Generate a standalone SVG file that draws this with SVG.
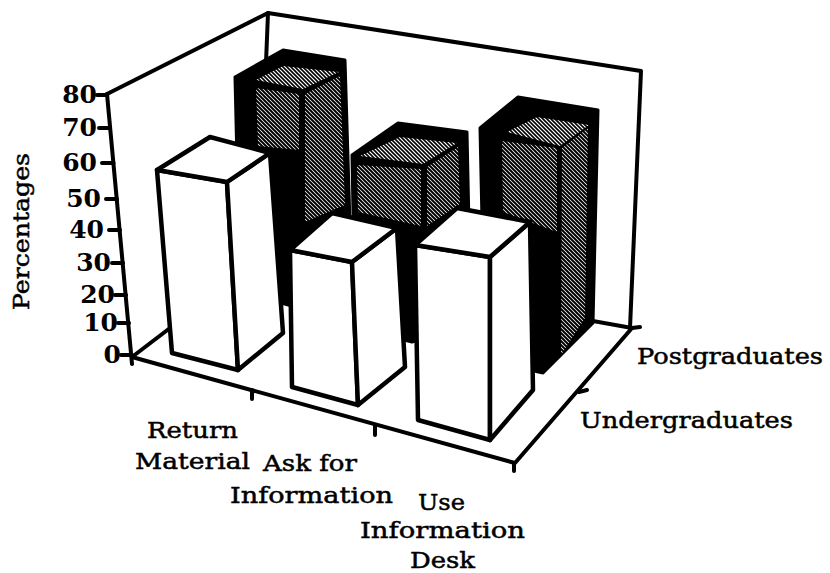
<svg xmlns="http://www.w3.org/2000/svg" width="830" height="573" viewBox="0 0 830 573">
  <defs>
    <!-- halftone screen used on the dark (postgraduate) bars -->
    <pattern id="screen" width="4" height="4" patternUnits="userSpaceOnUse">
      <rect width="4" height="4" fill="#fff"/>
      <path d="M-1,-1 L5,5 M-1,3 L1,5 M3,-1 L5,1" stroke="#000" stroke-width="2"/>
    </pattern>
    <pattern id="screenLight" width="4" height="4" patternUnits="userSpaceOnUse">
      <rect width="4" height="4" fill="#fff"/>
      <path d="M-1,-1 L5,5 M-1,3 L1,5 M3,-1 L5,1" stroke="#000" stroke-width="1.6"/>
    </pattern>
  </defs>
  <style>
    .ln { fill: none; stroke: #000; stroke-width: 4; stroke-linecap: round; stroke-linejoin: round; }
    .wb { fill: #fff; stroke: #000; stroke-width: 4.5; stroke-linejoin: round; }
    .db { fill: #000; stroke: #000; stroke-width: 3; stroke-linejoin: round; }
    .ht { fill: url(#screen); }
    .htl { fill: url(#screenLight); }
    .num { font-family: "DejaVu Serif", "Liberation Serif", serif; font-weight: bold; font-size: 25px; text-anchor: end; fill: #000; }
    .lbl { font-family: "DejaVu Serif", "Liberation Serif", serif; font-size: 23px; fill: #000; stroke: #000; stroke-width: 0.5; }
  </style>
  <rect width="830" height="573" fill="#fff"/>

  <!-- walls, floor and axes -->
  <g id="frame" class="ln">
    <path d="M107,94 L268,13 L641,71 L630,328"/>
    <path d="M268,13 L258,261"/>
    <path d="M132,357 L258,261 L632,328"/>
    <path d="M107,94 L132,364"/>
    <path d="M132,357 L515,463 L632,328 L640,327"/>
    <path d="M252,390 L252,399 M375,425 L375,435 M514,463 L514,471 M579,392 L587,390"/>
    <path d="M97,95 L107,95 M99,128 L110,128 M102,163 L113.5,163 M106,199 L117,199 M109,230 L120,230 M112,263 L123,263 M115,295 L126,295 M118,323 L129,323 M121,355 L132,355"/>
  </g>

  <!-- y axis values -->
  <g id="y-values">
    <text class="num" x="97" y="103">80</text>
    <text class="num" x="97" y="136">70</text>
    <text class="num" x="97" y="171">60</text>
    <text class="num" x="101" y="207">50</text>
    <text class="num" x="104" y="238">40</text>
    <text class="num" x="111" y="271">30</text>
    <text class="num" x="115" y="303">20</text>
    <text class="num" x="118" y="331">10</text>
    <text class="num" x="121" y="363">0</text>
  </g>
  <text id="y-title" class="lbl" font-size="21" text-anchor="middle" transform="translate(29,231.5) rotate(-90)" textLength="157" lengthAdjust="spacingAndGlyphs">Percentages</text>

  <!-- postgraduate bars (back row) -->
  <g id="pg-return">
    <polygon class="db" points="235,77 283,50 345,60 352,290 292,306 240,292"/>
    <polygon class="htl" points="256,80 283,66 339,72 303,89"/>
    <polygon class="ht" points="256,88 299,94 299,150 258,146"/>
    <polygon class="ht" points="305,94 340,76 345,205 305,222"/>
  </g>
  <g id="pg-ask">
    <polygon class="db" points="352,155 398,123 467,132 471,320 412,342 355,328"/>
    <polygon class="htl" points="360,156 400,137 457,143 423,164"/>
    <polygon class="ht" points="357,165 421,169 421,226 358,212"/>
    <polygon class="ht" points="427,167 458,147 460,204 427,226"/>
  </g>
  <g id="pg-desk">
    <polygon class="db" points="480,128 518,97 598,110 593,323 543,373 485,360"/>
    <polygon class="htl" points="507,132 537,117 589,125 560,146"/>
    <polygon class="ht" points="502,141 557,148 557,232 503,212"/>
    <polygon class="ht" points="562,148 588,128 585,318 561,355"/>
  </g>

  <!-- undergraduate bars (front row) -->
  <g id="ug-return">
    <polygon class="wb" points="157,170 227,182 238,370 172,353"/>
    <polygon class="wb" points="227,182 270,153 283,333 238,370"/>
    <polygon class="wb" points="157,170 210,137 270,153 227,182"/>
  </g>
  <g id="ug-ask">
    <polygon class="wb" points="290,250 352,262 358,405 292,387"/>
    <polygon class="wb" points="352,262 397,228 405,367 358,405"/>
    <polygon class="wb" points="290,250 332,213 397,228 352,262"/>
  </g>
  <g id="ug-desk">
    <polygon class="wb" points="415,245 490,257 490,440 418,420"/>
    <polygon class="wb" points="490,257 530,222 533,390 490,440"/>
    <polygon class="wb" points="415,245 457,208 530,222 490,257"/>
  </g>

  <!-- category and series labels -->
  <g id="labels" class="lbl">
    <text x="147" y="438" textLength="91" lengthAdjust="spacingAndGlyphs">Return</text>
    <text x="135" y="469" textLength="115" lengthAdjust="spacingAndGlyphs">Material</text>
    <text x="263" y="471" textLength="94" lengthAdjust="spacingAndGlyphs">Ask for</text>
    <text x="230" y="503" textLength="163" lengthAdjust="spacingAndGlyphs">Information</text>
    <text x="418" y="510" textLength="47" lengthAdjust="spacingAndGlyphs">Use</text>
    <text x="360" y="538" textLength="165" lengthAdjust="spacingAndGlyphs">Information</text>
    <text x="410" y="568" textLength="65" lengthAdjust="spacingAndGlyphs">Desk</text>
    <text x="637" y="364" textLength="186" lengthAdjust="spacingAndGlyphs">Postgraduates</text>
    <text x="580" y="428" textLength="213" lengthAdjust="spacingAndGlyphs">Undergraduates</text>
  </g>
</svg>
